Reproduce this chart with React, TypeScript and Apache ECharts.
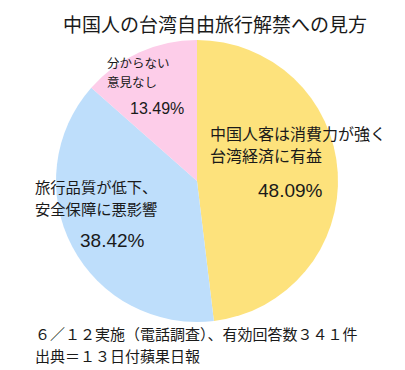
import React, { useEffect, useRef } from "react";
import * as echarts from "echarts";

const titleText = "中国人の台湾自由旅行解禁への見方";
const categories = [
  "中国人客は消費力が強く\n台湾経済に有益",
  "旅行品質が低下、\n安全保障に悪影響",
  "分からない\n意見なし",
];
const values = [48.09, 38.42, 13.49];
const colors = ["#FDE27C", "#BEDEFB", "#FDCDE9"];
const footnotes = [
  "６／１２実施（電話調査）、有効回答数３４１件",
  "出典＝１３日付蘋果日報",
];

const CJK = '"Noto Sans CJK JP", "Noto Sans", sans-serif';
const LATIN = '"Liberation Sans", Arial, sans-serif';

// label layout (positions only)
const labelLayouts = [
  { x: 210, y: 122, size: 16, lh: 22, px: 258, py: 190, psize: 19 },
  { x: 35, y: 175, size: 15.3, lh: 22, px: 80, py: 240, psize: 19 },
  { x: 107, y: 53, size: 12.5, lh: 19, px: 130, py: 108, psize: 16 },
];

export default function App() {
  const ref = useRef<HTMLDivElement>(null);
  useEffect(() => {
    if (!ref.current) return;
    const chart = echarts.init(ref.current, undefined, { renderer: "svg" });
    const graphics: any[] = [];
    categories.forEach((c, i) => {
      const L = labelLayouts[i];
      graphics.push({
        type: "text",
        left: L.x,
        top: L.y,
        style: {
          text: c,
          fill: "#1a1a1a",
          font: `${L.size}px ${CJK}`,
          lineHeight: L.lh,
        },
        z: 10,
      });
      graphics.push({
        type: "text",
        x: L.px,
        y: L.py,
        style: {
          text: values[i].toFixed(2) + "%",
          fill: "#1a1a1a",
          font: `${L.psize}px ${LATIN}`,
          textVerticalAlign: "middle",
        },
        z: 10,
      });
    });
    footnotes.forEach((f, i) => {
      graphics.push({
        type: "text",
        x: 35,
        y: 333 + i * 22,
        style: {
          text: f,
          fill: "#1a1a1a",
          font: `15px ${CJK}`,
          textVerticalAlign: "middle",
        },
      });
    });
    chart.setOption({
      animation: false,
      backgroundColor: "#ffffff",
      title: {
        text: titleText,
        left: 210,
        top: 9,
        textAlign: "center",
        textStyle: {
          fontFamily: CJK,
          fontSize: 19,
          fontWeight: "normal",
          color: "#1a1a1a",
        },
      },
      graphic: graphics,
      series: [
        {
          type: "pie",
          center: [197, 181],
          radius: 141,
          startAngle: 90,
          clockwise: true,
          label: { show: false },
          labelLine: { show: false },
          emphasis: { disabled: true },
          itemStyle: { borderWidth: 0 },
          data: values.map((v, i) => ({
            value: v,
            name: categories[i],
            itemStyle: { color: colors[i] },
          })),
        },
      ],
    });
    return () => chart.dispose();
  }, []);
  return (
    <div
      ref={ref}
      style={{ position: "absolute", left: 0, top: 0, width: 405, height: 370 }}
    />
  );
}
